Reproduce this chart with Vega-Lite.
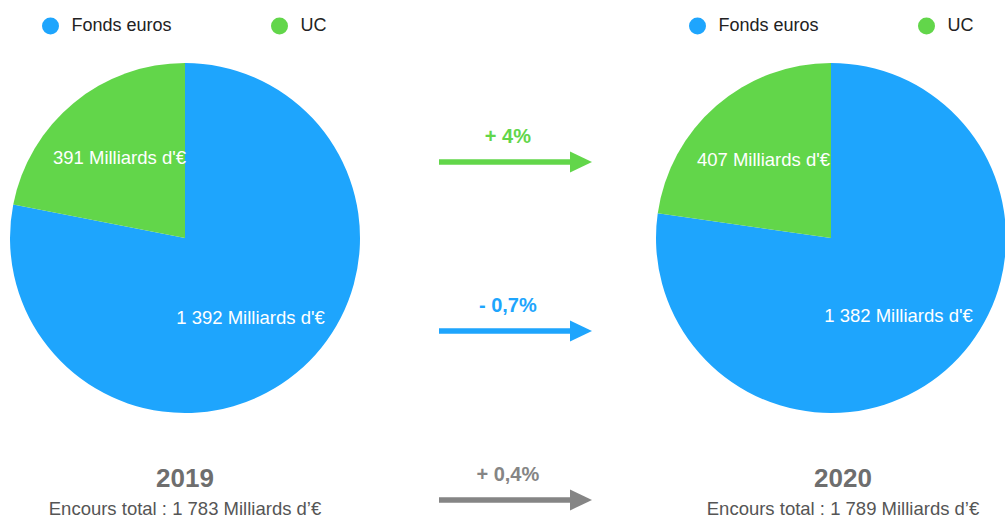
{
  "$schema": "https://vega.github.io/schema/vega-lite/v6.json",
  "background": "white",
  "padding": {"left": 10, "top": 17, "right": 0, "bottom": 0},
  "bounds": "flush",
  "spacing": 79,
  "config": {
    "view": {"stroke": null},
    "font": "Liberation Sans",
    "locale": {"number": {"decimal": ",", "thousands": " ", "grouping": [3], "currency": ["", " Milliards d'€"]}}
  },
  "datasets": {
    "encours": [
      {"annee": 2019, "support": "Fonds euros", "montant": 1392},
      {"annee": 2019, "support": "UC", "montant": 391},
      {"annee": 2020, "support": "Fonds euros", "montant": 1382},
      {"annee": 2020, "support": "UC", "montant": 407}
    ],
    "evolution": [
      {"support": "UC", "variation": "+ 4%"},
      {"support": "Fonds euros", "variation": "- 0,7%"},
      {"support": "Total", "variation": "+ 0,4%"}
    ]
  },
  "resolve": {
    "scale": {"color": "independent", "theta": "independent", "x": "independent", "y": "independent"},
    "legend": {"color": "independent"}
  },
  "hconcat": [
    {
      "width": 350,
      "height": 350,
      "data": {"name": "encours"},
      "transform": [{"filter": "datum.annee == 2019"}],
      "title": {
        "text": "2019",
        "subtitle": "Encours total : 1 783 Milliards d’€",
        "orient": "bottom",
        "anchor": "middle",
        "offset": 53,
        "font": "Liberation Sans",
        "fontSize": 26,
        "fontWeight": "bold",
        "color": "#6e6e6e",
        "subtitleFont": "Liberation Sans",
        "subtitleFontSize": 18.5,
        "subtitleColor": "#555555",
        "subtitlePadding": 8
      },
      "encoding": {
        "theta": {"field": "montant", "type": "quantitative", "stack": true},
        "order": {"field": "support", "type": "ordinal", "sort": "ascending"}
      },
      "layer": [
        {
          "mark": {"type": "arc", "outerRadius": 175},
          "encoding": {
            "color": {
              "field": "support",
              "type": "nominal",
              "scale": {"domain": ["Fonds euros", "UC"], "range": ["#1EA5FD", "#62D64A"]},
              "legend": {
                "title": null,
                "orient": "none",
                "legendX": 31.5,
                "legendY": -46,
                "direction": "horizontal",
                "symbolType": "circle",
                "symbolSize": 289,
                "symbolStrokeWidth": 0,
                "symbolOpacity": 1,
                "labelFont": "Liberation Sans",
                "labelFontSize": 18,
                "labelColor": "#222222",
                "labelOffset": 12,
                "columnPadding": 98,
                "padding": 0
              }
            }
          }
        },
        {
          "mark": {"type": "text", "radius": 103, "fill": "white", "fontSize": 18.5, "align": "center", "baseline": "middle"},
          "encoding": {
            "detail": {"field": "support", "type": "nominal"},
            "text": {"field": "montant", "type": "quantitative", "format": "$,d"}
          }
        }
      ]
    },
    {
      "width": 153,
      "height": 437,
      "data": {"name": "evolution"},
      "encoding": {
        "y": {
          "field": "support",
          "type": "nominal",
          "scale": {"type": "point", "domain": ["UC", "Fonds euros", "Total"], "padding": 0.293, "align": 1},
          "axis": null
        },
        "color": {
          "field": "support",
          "type": "nominal",
          "scale": {"domain": ["UC", "Fonds euros", "Total"], "range": ["#62D64A", "#1EA5FD", "#858585"]},
          "legend": null
        }
      },
      "layer": [
        {
          "mark": {"type": "rule", "strokeWidth": 5.5},
          "encoding": {
            "x": {"datum": 0, "type": "quantitative", "scale": {"domain": [0, 1], "nice": false}, "axis": null},
            "x2": {"datum": 0.87}
          }
        },
        {
          "mark": {"type": "point", "shape": "M-2,-0.95L0,0L-2,0.95Z", "filled": true, "size": 484, "opacity": 1},
          "encoding": {
            "x": {"datum": 1, "type": "quantitative", "scale": {"domain": [0, 1], "nice": false}, "axis": null}
          }
        },
        {
          "mark": {"type": "text", "dy": -25, "fontSize": 20, "fontWeight": "bold", "align": "center", "baseline": "middle"},
          "encoding": {
            "x": {"datum": 0.45, "type": "quantitative", "scale": {"domain": [0, 1], "nice": false}, "axis": null},
            "text": {"field": "variation", "type": "nominal"}
          }
        }
      ]
    },
    {
      "width": 320,
      "height": 350,
      "data": {"name": "encours"},
      "transform": [{"filter": "datum.annee == 2020"}],
      "title": {
        "text": "2020",
        "subtitle": "Encours total : 1 789 Milliards d’€",
        "orient": "bottom",
        "anchor": "middle",
        "offset": 53,
        "dx": 12,
        "font": "Liberation Sans",
        "fontSize": 26,
        "fontWeight": "bold",
        "color": "#6e6e6e",
        "subtitleFont": "Liberation Sans",
        "subtitleFontSize": 18.5,
        "subtitleColor": "#555555",
        "subtitlePadding": 8
      },
      "encoding": {
        "theta": {"field": "montant", "type": "quantitative", "stack": true},
        "order": {"field": "support", "type": "ordinal", "sort": "ascending"}
      },
      "layer": [
        {
          "mark": {"type": "arc", "outerRadius": 175},
          "encoding": {
            "color": {
              "field": "support",
              "type": "nominal",
              "scale": {"domain": ["Fonds euros", "UC"], "range": ["#1EA5FD", "#62D64A"]},
              "legend": {
                "title": null,
                "orient": "none",
                "legendX": 17.5,
                "legendY": -46,
                "direction": "horizontal",
                "symbolType": "circle",
                "symbolSize": 289,
                "symbolStrokeWidth": 0,
                "symbolOpacity": 1,
                "labelFont": "Liberation Sans",
                "labelFontSize": 18,
                "labelColor": "#222222",
                "labelOffset": 12,
                "columnPadding": 98,
                "padding": 0
              }
            }
          }
        },
        {
          "mark": {"type": "text", "radius": 103, "fill": "white", "fontSize": 18.5, "align": "center", "baseline": "middle"},
          "encoding": {
            "detail": {"field": "support", "type": "nominal"},
            "text": {"field": "montant", "type": "quantitative", "format": "$,d"}
          }
        }
      ]
    }
  ]
}
